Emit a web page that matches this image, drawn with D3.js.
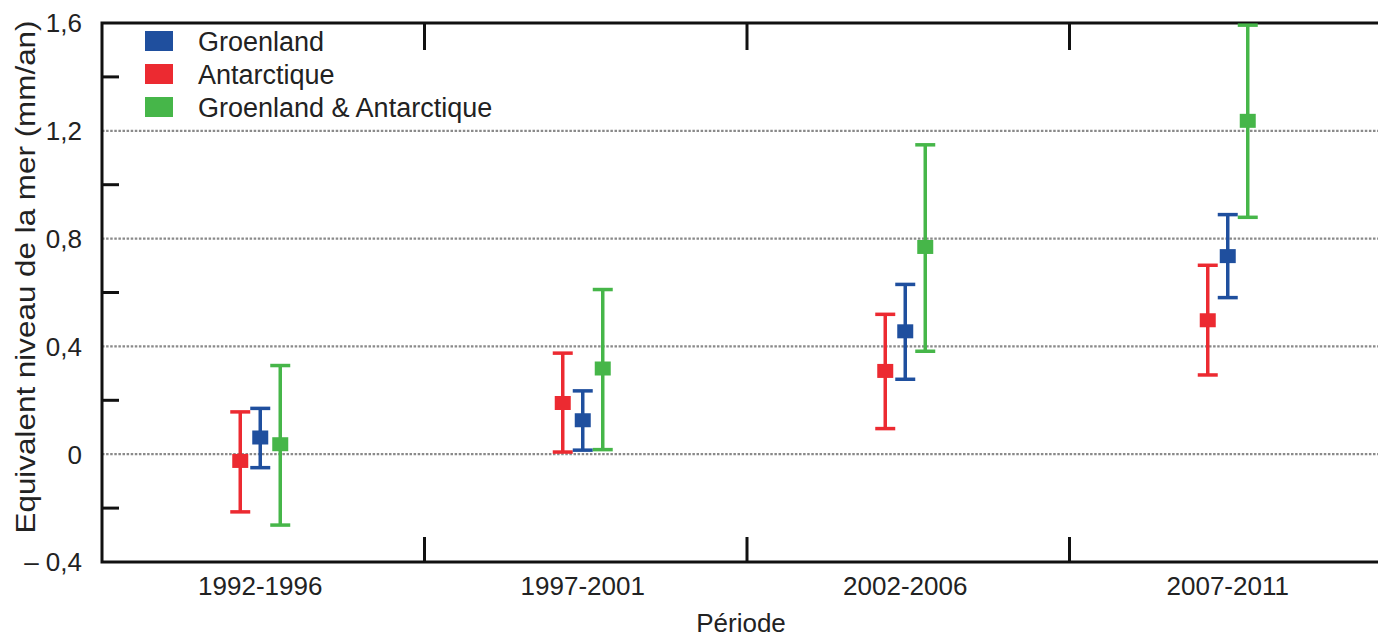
<!DOCTYPE html>
<html>
<head>
<meta charset="utf-8">
<script src="https://cdn.jsdelivr.net/npm/d3@7"></script>
<style>
  body { margin: 0; background: #fff; }
  text { font-family: "Liberation Sans", Arial, sans-serif; fill: #222; }
</style>
</head>
<body>
<script>
const periods = ["1992-1996", "1997-2001", "2002-2006", "2007-2011"];

const greenlandMid  = [0.062, 0.126, 0.456, 0.735];
const greenlandLow  = [-0.05, 0.015, 0.278, 0.581];
const greenlandHigh = [0.17, 0.235, 0.63, 0.889];

const antarcticMid  = [-0.025, 0.19, 0.309, 0.497];
const antarcticLow  = [-0.214, 0.008, 0.095, 0.294];
const antarcticHigh = [0.157, 0.375, 0.519, 0.701];

const bothMid  = [0.037, 0.318, 0.769, 1.237];
const bothLow  = [-0.263, 0.017, 0.382, 0.879];
const bothHigh = [0.329, 0.611, 1.148, 1.592];

const majorTicks = [-0.4, 0, 0.4, 0.8, 1.2, 1.6];
const minorTicks = [-0.2, 0.2, 0.6, 1.0, 1.4];
const gridTicks = [0, 0.4, 0.8, 1.2];

// legend order
const series = [
  { name: "Groenland", color: "#1f4f9e", mid: greenlandMid, low: greenlandLow, high: greenlandHigh },
  { name: "Antarctique", color: "#ec2a31", mid: antarcticMid, low: antarcticLow, high: antarcticHigh },
  { name: "Groenland & Antarctique", color: "#46b649", mid: bothMid, low: bothLow, high: bothHigh }
];
// drawing order inside each group: red, blue, green
const drawOrder = ["Antarctique", "Groenland", "Groenland & Antarctique"];

const w = 1378, h = 641;
const margin = { left: 102, top: 23, right: -14, bottom: 79 };

const svg = d3.select("body").append("svg")
    .attr("width", w)
    .attr("height", h);

const x = d3.scaleBand()
    .domain(periods)
    .range([margin.left, w - margin.right]);

const offset = d3.scalePoint()
    .domain(drawOrder)
    .range([-23, 17]);

const y = d3.scaleLinear()
    .domain([-0.4, 1.6])
    .range([h - margin.bottom, margin.top]);

const fmt = function (d) {
  const s = d3.format(".1f")(Math.abs(d)).replace(".", ",").replace(",0", "");
  if (d === 0) return "0";
  return (d < 0 ? "\u2013 " : "") + s;
};

// dotted grid
svg.selectAll(".grid")
  .data(gridTicks)
  .enter().append("line")
    .attr("class", "grid")
    .attr("x1", margin.left)
    .attr("x2", w)
    .attr("y1", d => y(d))
    .attr("y2", d => y(d))
    .attr("stroke", "#8a8a8a")
    .attr("stroke-width", 2.2)
    .attr("stroke-dasharray", "2.5,1.6");

// y minor ticks (inside)
svg.selectAll(".ytick")
  .data(minorTicks)
  .enter().append("line")
    .attr("x1", margin.left)
    .attr("x2", margin.left + 17)
    .attr("y1", d => y(d))
    .attr("y2", d => y(d))
    .attr("stroke", "#111")
    .attr("stroke-width", 3);

// y labels
svg.selectAll(".ylabel")
  .data(majorTicks)
  .enter().append("text")
    .attr("x", 82)
    .attr("y", d => y(d))
    .attr("dy", "0.36em")
    .attr("text-anchor", "end")
    .attr("font-size", "26px")
    .text(fmt);

// separators between periods, top and bottom
const seps = periods.slice(1);
svg.selectAll(".sepB")
  .data(seps)
  .enter().append("line")
    .attr("x1", d => x(d))
    .attr("x2", d => x(d))
    .attr("y1", y(-0.4))
    .attr("y2", y(-0.4) - 25)
    .attr("stroke", "#111")
    .attr("stroke-width", 3);
svg.selectAll(".sepT")
  .data(seps)
  .enter().append("line")
    .attr("x1", d => x(d))
    .attr("x2", d => x(d))
    .attr("y1", y(1.6))
    .attr("y2", y(1.6) + 27)
    .attr("stroke", "#111")
    .attr("stroke-width", 3);

// frame
svg.append("rect")
    .attr("x", margin.left)
    .attr("y", margin.top)
    .attr("width", w - margin.right - margin.left)
    .attr("height", h - margin.bottom - margin.top)
    .attr("fill", "none")
    .attr("stroke", "#111")
    .attr("stroke-width", 3);

// x labels
svg.selectAll(".xlabel")
  .data(periods)
  .enter().append("text")
    .attr("x", d => x(d) + x.bandwidth() / 2 - 3)
    .attr("y", 595)
    .attr("text-anchor", "middle")
    .attr("font-size", "26px")
    .text(d => d);

svg.append("text")
    .attr("x", 741)
    .attr("y", 632)
    .attr("text-anchor", "middle")
    .attr("font-size", "26px")
    .text("Période");

svg.append("text")
    .attr("transform", "translate(35,277) rotate(-90)")
    .attr("text-anchor", "middle")
    .attr("font-size", "27px")
    .attr("textLength", 513)
    .attr("lengthAdjust", "spacingAndGlyphs")
    .text("Equivalent niveau de la mer (mm/an)");

// error bars
const points = [];
drawOrder.forEach(function (name) {
  const s = series.find(d => d.name === name);
  periods.forEach(function (p, i) {
    points.push({ period: p, name: name, color: s.color, mid: s.mid[i], low: s.low[i], high: s.high[i] });
  });
});

const cx = d => x(d.period) + x.bandwidth() / 2 + offset(d.name);

const bars = svg.selectAll(".bar")
  .data(points)
  .enter().append("g")
    .attr("class", "bar");

bars.append("line")
    .attr("x1", cx).attr("x2", cx)
    .attr("y1", d => y(d.low)).attr("y2", d => y(d.high))
    .attr("stroke", d => d.color)
    .attr("stroke-width", 3.5);

bars.append("line")
    .attr("x1", d => cx(d) - 10).attr("x2", d => cx(d) + 10)
    .attr("y1", d => y(d.high)).attr("y2", d => y(d.high))
    .attr("stroke", d => d.color)
    .attr("stroke-width", 3.5);

bars.append("line")
    .attr("x1", d => cx(d) - 10).attr("x2", d => cx(d) + 10)
    .attr("y1", d => y(d.low)).attr("y2", d => y(d.low))
    .attr("stroke", d => d.color)
    .attr("stroke-width", 3.5);

bars.append("rect")
    .attr("x", d => cx(d) - 8)
    .attr("y", d => y(d.mid) - 7)
    .attr("width", 16)
    .attr("height", 14)
    .attr("fill", d => d.color);

// legend
const legend = svg.selectAll(".legend")
  .data(series)
  .enter().append("g")
    .attr("transform", (d, i) => "translate(145," + (41 + i * 33) + ")");

legend.append("rect")
    .attr("x", 0)
    .attr("y", -10)
    .attr("width", 28)
    .attr("height", 20)
    .attr("fill", d => d.color);

legend.append("text")
    .attr("x", 53)
    .attr("y", 0)
    .attr("dy", "0.36em")
    .attr("font-size", "27px")
    .text(d => d.name);
</script>
</body>
</html>
